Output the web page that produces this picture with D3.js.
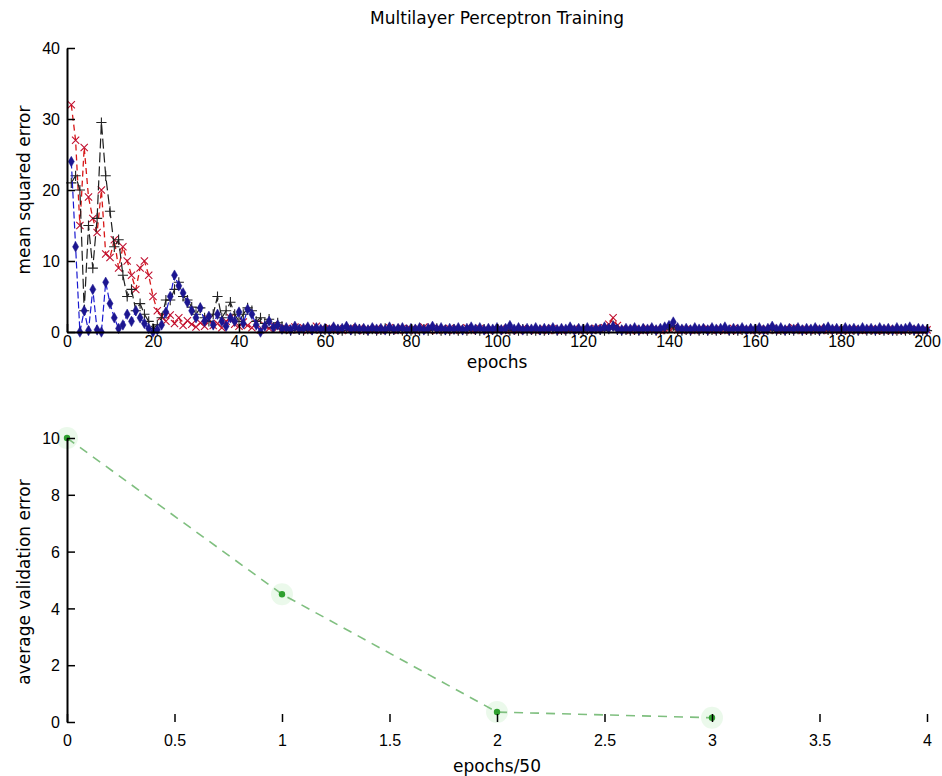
<!DOCTYPE html>
<html>
<head>
<meta charset="utf-8">
<script src="https://cdn.jsdelivr.net/npm/d3@7"></script>
<style>
  html, body { margin: 0; padding: 0; background: #fff; }
  svg { display: block; font-family: "DejaVu Sans", "Liberation Sans", sans-serif; }
  .tick text { font-size: 16px; fill: #000; }
  .lbl { font-size: 17px; fill: #000; }
</style>
</head>
<body>
<svg id="fig" width="942" height="776"></svg>
<script>
// ---- training error per epoch (three runs) ----
const epochs = d3.range(1, 201);

const errRed = [
  32, 27, 15, 26, 19, 16, 14, 20, 11, 10.5,
  13, 9, 12, 10, 8, 6, 9, 10, 8, 5,
  3, 2.2, 1.5, 2.4, 1.2, 2.0, 0.9, 1.6, 1.1, 0.7,
  1.3, 0.8, 1.8, 0.9, 1.2, 0.6, 1.5, 2.0, 1.1, 0.8,
  1.4, 0.9, 0.6, 1.2, 0.3, 0.9, 0.5, 1.0, 0.6, 0.4,
  0.5, 0.3, 0.7, 0.4, 0.6, 0.2, 0.5, 0.8, 0.3, 0.4,
  0.6, 0.3, 0.5, 0.2, 0.4, 0.6, 0.3, 0.5, 0.2, 0.4,
  0.3, 0.5, 0.2, 0.4, 0.6, 0.3, 0.2, 0.5, 0.3, 0.4,
  0.2, 0.4, 0.7, 0.3, 0.5, 0.2, 0.4, 0.3, 0.5, 0.2,
  0.4, 0.3, 0.6, 0.2, 0.4, 0.5, 0.3, 0.2, 0.4, 0.3,
  0.5, 0.2, 0.3, 0.4, 0.2, 0.5, 0.3, 0.4, 0.2, 0.3,
  0.4, 0.2, 0.5, 0.3, 0.2, 0.4, 0.3, 0.5, 0.2, 0.3,
  0.4, 0.3, 0.5, 0.4, 0.6, 1.1, 2.0, 0.9, 0.4, 0.3,
  0.2, 0.4, 0.3, 0.2, 0.5, 0.3, 0.4, 0.2, 0.3, 0.5,
  0.6, 0.3, 0.2, 0.4, 0.3, 0.2, 0.4, 0.3, 0.5, 0.2,
  0.3, 0.4, 0.2, 0.3, 0.5, 0.2, 0.3, 0.4, 0.2, 0.3,
  0.4, 0.2, 0.3, 0.5, 0.3, 0.2, 0.4, 0.3, 0.6, 0.3,
  0.2, 0.4, 0.3, 0.2, 0.5, 0.3, 0.2, 0.4, 0.3, 0.2,
  0.3, 0.2, 0.4, 0.3, 0.2, 0.3, 0.4, 0.2, 0.3, 0.2,
  0.4, 0.2, 0.3, 0.2, 0.3, 0.4, 0.2, 0.3, 0.2, 0.3
];

const errBlack = [
  21, 22, 20, 3, 15, 9, 16, 29.5, 22, 17,
  12, 13, 8, 5, 6, 3, 4, 2.5, 1.5, 0.5,
  1, 2, 4.5, 4.5, 6, 7, 5, 4.5, 3.5, 2.5,
  3.4, 2, 1.5, 2.5, 5, 2, 3, 4.2, 2.5, 1.5,
  2.5, 3.4, 3.0, 1.5, 2.0, 1.2, 1.8, 0.6, 1.3, 0.8,
  0.4, 0.2, 0.5, 0.3, 0.2, 0.4, 0.3, 0.5, 0.2, 0.3,
  0.2, 0.4, 0.3, 0.2, 0.5, 0.3, 0.2, 0.4, 0.3, 0.2,
  0.4, 0.2, 0.3, 0.5, 0.2, 0.3, 0.4, 0.2, 0.3, 0.2,
  0.3, 0.2, 0.4, 0.2, 0.3, 0.5, 0.2, 0.3, 0.2, 0.4,
  0.2, 0.3, 0.2, 0.4, 0.3, 0.2, 0.4, 0.2, 0.3, 0.2,
  0.3, 0.4, 0.2, 0.3, 0.2, 0.4, 0.2, 0.3, 0.2, 0.3,
  0.2, 0.3, 0.4, 0.2, 0.3, 0.2, 0.4, 0.2, 0.3, 0.2,
  0.3, 0.2, 0.4, 0.3, 0.2, 0.4, 0.9, 0.3, 0.2, 0.3,
  0.2, 0.3, 0.2, 0.4, 0.2, 0.3, 0.2, 0.3, 0.4, 0.6,
  0.9, 0.3, 0.2, 0.3, 0.2, 0.4, 0.2, 0.3, 0.2, 0.3,
  0.2, 0.3, 0.4, 0.2, 0.3, 0.2, 0.3, 0.2, 0.4, 0.2,
  0.3, 0.2, 0.3, 0.4, 0.2, 0.3, 0.2, 0.3, 0.2, 0.4,
  0.2, 0.3, 0.2, 0.3, 0.2, 0.4, 0.3, 0.2, 0.3, 0.2,
  0.3, 0.2, 0.3, 0.2, 0.4, 0.2, 0.3, 0.2, 0.3, 0.2,
  0.3, 0.2, 0.2, 0.3, 0.2, 0.3, 0.2, 0.3, 0.2, 0.2
];

const errBlue = [
  24, 12, 0, 3, 0.2, 6, 0.3, 0, 7, 4,
  2, 0.5, 1, 2.5, 1.5, 3, 2, 1.2, 0.5, 0,
  0.3, 1.0, 2.8, 5, 8, 6.5, 5.5, 4.2, 3, 2,
  3.4, 1.5, 2.2, 1, 2.5, 1.5, 0.8, 2, 1.5, 2.8,
  1.2, 3.2, 2.5, 1.0, 0, 0.8, 1.5, 0.6, 1.0, 0.4,
  0.6, 0.3, 0.8, 0.4, 0.5, 0.7, 0.3, 0.6, 0.4, 0.5,
  0.3, 0.7, 0.4, 0.5, 0.8, 0.3, 0.6, 0.4, 0.5, 0.3,
  0.6, 0.4, 0.5, 0.3, 0.7, 0.4, 0.5, 0.6, 0.3, 0.5,
  0.4, 0.6, 0.3, 0.5, 0.8, 0.4, 0.6, 0.3, 0.5, 0.4,
  0.6, 0.3, 0.5, 0.7, 0.4, 0.6, 0.3, 0.5, 0.4, 0.6,
  0.3, 0.5, 0.9, 0.4, 0.6, 0.3, 0.5, 0.4, 0.6, 0.3,
  0.5, 0.4, 0.6, 0.3, 0.5, 0.4, 0.7, 0.3, 0.5, 0.4,
  0.6, 0.3, 0.5, 0.4, 0.7, 0.5, 0.8, 0.4, 0.3, 0.5,
  0.4, 0.6, 0.3, 0.5, 0.4, 0.6, 0.3, 0.5, 0.7, 0.9,
  1.4, 0.6, 0.4, 0.5, 0.3, 0.6, 0.4, 0.5, 0.3, 0.6,
  0.4, 0.5, 0.7, 0.3, 0.5, 0.4, 0.6, 0.3, 0.5, 0.4,
  0.6, 0.3, 0.5, 0.8, 0.4, 0.6, 0.3, 0.5, 0.4, 0.6,
  0.3, 0.5, 0.4, 0.6, 0.3, 0.5, 0.7, 0.4, 0.5, 0.3,
  0.6, 0.4, 0.5, 0.3, 0.6, 0.4, 0.5, 0.3, 0.6, 0.4,
  0.5, 0.3, 0.6, 0.4, 0.5, 0.7, 0.3, 0.5, 0.4, 0.3
];

// ---- validation error, sampled every 50 epochs ----
const valX = [0, 1, 2, 3];
const valErr = [10, 4.5, 0.35, 0.15];

// tick values
const topXTicks = d3.range(0, 201, 20);
const topYTicks = [0, 10, 20, 30, 40];
const botXTicks = [0, 0.5, 1, 1.5, 2, 2.5, 3, 3.5, 4];
const botYTicks = [0, 2, 4, 6, 8, 10];

const svg = d3.select("#fig");

// ================= top panel: training error =================
const x1 = d3.scaleLinear().domain([0, 200]).range([67, 927]);
const y1 = d3.scaleLinear().domain([0, 40]).range([332, 48]);

svg.append("text").attr("class", "lbl")
  .attr("x", 497).attr("y", 24).attr("text-anchor", "middle")
  .text("Multilayer Perceptron Training");

const seriesTop = [
  { vals: errRed,   color: "#d81818", dash: "6,4", sym: d3.symbolTimes,   size: 36, fill: false, mcolor: "#c01030", w: 1.3 },
  { vals: errBlack, color: "#1e1e1e", dash: "10,4", sym: d3.symbolPlus,   size: 36, fill: false, mcolor: "#222",    w: 1.2 },
  { vals: errBlue,  color: "#1a1ad0", dash: "7,3", sym: d3.symbolDiamond, size: 32, fill: true,  mcolor: "#1c1690", w: 1.2 }
];

const lineTop = d3.line().x((d, i) => x1(epochs[i])).y(d => y1(d));

seriesTop.forEach(s => {
  svg.append("path")
    .attr("d", lineTop(s.vals))
    .attr("fill", "none")
    .attr("stroke", s.color)
    .attr("stroke-width", s.w)
    .attr("stroke-dasharray", s.dash);
  svg.append("g").selectAll("path")
    .data(s.vals)
    .join("path")
    .attr("transform", (d, i) => `translate(${x1(epochs[i])},${y1(d)})`)
    .attr("d", d3.symbol().type(s.sym).size(s.size))
    .attr("fill", s.fill ? s.mcolor : "none")
    .attr("stroke", s.mcolor)
    .attr("stroke-width", s.fill ? 0.5 : 1.1);
});

const ax1x = svg.append("g").attr("transform", "translate(0,332)")
  .call(d3.axisBottom(x1).tickValues(topXTicks).tickFormat(d3.format("d"))
    .tickSizeInner(-8).tickSizeOuter(0).tickPadding(4));
const ax1y = svg.append("g").attr("transform", "translate(67,0)")
  .call(d3.axisLeft(y1).tickValues(topYTicks).tickFormat(d3.format("d"))
    .tickSizeInner(-8).tickSizeOuter(0).tickPadding(7));
[ax1x, ax1y].forEach(g => {
  g.select(".domain").attr("stroke", "#000").attr("stroke-width", 2);
  g.selectAll(".tick line").attr("stroke", "#000").attr("stroke-width", 1.5);
  g.selectAll(".tick text").attr("font-family", null).attr("font-size", null);
});
ax1y.selectAll(".tick text").attr("dy", "0.36em");

svg.append("text").attr("class", "lbl")
  .attr("x", 497).attr("y", 368).attr("text-anchor", "middle")
  .text("epochs");
svg.append("text").attr("class", "lbl")
  .attr("transform", "translate(30,190) rotate(-90)")
  .attr("text-anchor", "middle")
  .text("mean squared error");

// ================= bottom panel: validation error =================
const x2 = d3.scaleLinear().domain([0, 4]).range([67, 927]);
const y2 = d3.scaleLinear().domain([0, 10]).range([722, 438]);

const lineBot = d3.line().x((d, i) => x2(valX[i])).y(d => y2(d));

// soft glow around the sample points
svg.append("g").selectAll("circle")
  .data(valErr)
  .join("circle")
  .attr("cx", (d, i) => x2(valX[i])).attr("cy", d => y2(d))
  .attr("r", 11)
  .attr("fill", "#8fe08f").attr("opacity", 0.18);

svg.append("path")
  .attr("d", lineBot(valErr))
  .attr("fill", "none")
  .attr("stroke", "#7fbf7f")
  .attr("stroke-width", 1.6)
  .attr("stroke-dasharray", "9,7");

svg.append("g").selectAll("circle.pt")
  .data(valErr)
  .join("circle")
  .attr("class", "pt")
  .attr("cx", (d, i) => x2(valX[i])).attr("cy", d => y2(d))
  .attr("r", 3.2)
  .attr("fill", "#2fa02f");

const ax2x = svg.append("g").attr("transform", "translate(0,722)")
  .call(d3.axisBottom(x2).tickValues(botXTicks).tickFormat(d3.format("~g"))
    .tickSizeInner(-8).tickSizeOuter(0).tickPadding(13));
const ax2y = svg.append("g").attr("transform", "translate(67,0)")
  .call(d3.axisLeft(y2).tickValues(botYTicks).tickFormat(d3.format("d"))
    .tickSizeInner(-8).tickSizeOuter(0).tickPadding(7));
ax2x.select(".domain").remove();
ax2y.select(".domain").attr("stroke", "#000").attr("stroke-width", 2);
[ax2x, ax2y].forEach(g => {
  g.selectAll(".tick line").attr("stroke", "#000").attr("stroke-width", 1.5);
  g.selectAll(".tick text").attr("font-family", null).attr("font-size", null);
});
ax2y.selectAll(".tick text").attr("dy", "0.36em");

svg.append("text").attr("class", "lbl")
  .attr("x", 497).attr("y", 772).attr("text-anchor", "middle")
  .text("epochs/50");
svg.append("text").attr("class", "lbl")
  .attr("transform", "translate(30,582) rotate(-90)")
  .attr("text-anchor", "middle")
  .text("average validation error");
</script>
</body>
</html>
